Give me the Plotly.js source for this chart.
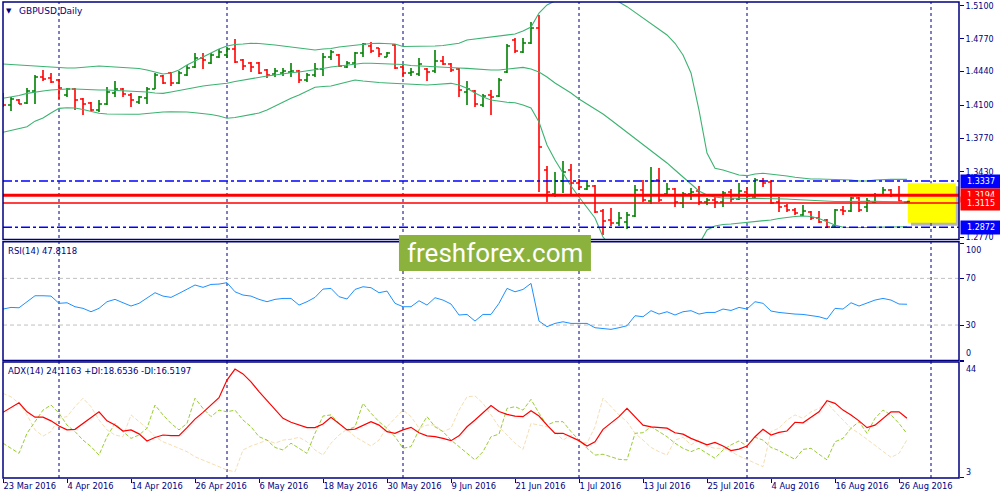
<!DOCTYPE html>
<html><head><meta charset="utf-8">
<script src="https://cdn.plot.ly/plotly-3.0.1.min.js"></script>
<style>html,body{margin:0;padding:0;background:#fff}#chart{width:1000px;height:500px}</style>
</head><body><div id="chart"></div>
<script>
const dates = [
'2016-03-23','2016-03-24','2016-03-25','2016-03-28','2016-03-29','2016-03-30','2016-03-31',
'2016-04-01','2016-04-04','2016-04-05','2016-04-06','2016-04-07','2016-04-08','2016-04-11','2016-04-12','2016-04-13','2016-04-14','2016-04-15','2016-04-18','2016-04-19','2016-04-20','2016-04-21','2016-04-22','2016-04-25','2016-04-26','2016-04-27','2016-04-28','2016-04-29',
'2016-05-02','2016-05-03','2016-05-04','2016-05-05','2016-05-06','2016-05-09','2016-05-10','2016-05-11','2016-05-12','2016-05-13','2016-05-16','2016-05-17','2016-05-18','2016-05-19','2016-05-20','2016-05-23','2016-05-24','2016-05-25','2016-05-26','2016-05-27','2016-05-30','2016-05-31',
'2016-06-01','2016-06-02','2016-06-03','2016-06-06','2016-06-07','2016-06-08','2016-06-09','2016-06-10','2016-06-13','2016-06-14','2016-06-15','2016-06-16','2016-06-17','2016-06-20','2016-06-21','2016-06-22','2016-06-23','2016-06-24','2016-06-27','2016-06-28','2016-06-29','2016-06-30',
'2016-07-01','2016-07-04','2016-07-05','2016-07-06','2016-07-07','2016-07-08','2016-07-11','2016-07-12','2016-07-13','2016-07-14','2016-07-15','2016-07-18','2016-07-19','2016-07-20','2016-07-21','2016-07-22','2016-07-25','2016-07-26','2016-07-27','2016-07-28','2016-07-29',
'2016-08-01','2016-08-02','2016-08-03','2016-08-04','2016-08-05','2016-08-08','2016-08-09','2016-08-10','2016-08-11','2016-08-12','2016-08-15','2016-08-16','2016-08-17','2016-08-18','2016-08-19','2016-08-22','2016-08-23','2016-08-24','2016-08-25','2016-08-26','2016-08-29'];
const futureDates = ['2016-08-30','2016-08-31','2016-09-01','2016-09-02','2016-09-05','2016-09-06'];
const tickDates = ['2016-03-23','2016-04-04','2016-04-14','2016-04-26','2016-05-06','2016-05-18','2016-05-30','2016-06-09','2016-06-21','2016-07-01','2016-07-13','2016-07-25','2016-08-04','2016-08-16','2016-08-26'];
const tickLabels = ['23 Mar 2016','4 Apr 2016','14 Apr 2016','26 Apr 2016','6 May 2016','18 May 2016','30 May 2016','9 Jun 2016','21 Jun 2016','1 Jul 2016','13 Jul 2016','25 Jul 2016','4 Aug 2016','16 Aug 2016','26 Aug 2016'];
const monthStarts = ['2016-04-01','2016-05-02','2016-06-01','2016-07-01','2016-08-01','2016-09-01'];

const openP = [1.4183,1.4103,1.4153,1.4123,1.4244,1.4385,1.4375,1.4354,1.4203,1.4264,
1.4163,1.4123,1.4052,1.4113,1.4224,1.4264,1.4203,1.4133,1.4173,1.4264,
1.4395,1.4425,1.4324,1.4405,1.4485,1.4576,1.4526,1.4586,1.4606,1.4667,
1.4556,1.4526,1.4526,1.4455,1.4415,1.4425,1.4435,1.4445,1.4354,1.4405,
1.4465,1.4586,1.4606,1.4485,1.4526,1.4626,1.4697,1.4677,1.4586,1.4707,
1.4485,1.4425,1.4415,1.4465,1.4445,1.4546,1.4516,1.4465,1.4234,1.4244,
1.4103,1.4203,1.4193,1.4435,1.4757,1.4636,1.4727,1.4878,1.3448,1.3206,
1.3337,1.3448,1.3317,1.3257,1.3287,1.3035,1.2945,1.2914,1.2924,1.2985,
1.3247,1.3136,1.3347,1.3206,1.3257,1.3116,1.3206,1.3237,1.3126,1.3146,
1.3126,1.3227,1.3156,1.3227,1.3176,1.3337,1.3327,1.3126,1.3086,1.3045,
1.2995,1.3025,1.2965,1.2945,1.2884,1.3045,1.3035,1.3166,1.3076,1.3126,
1.3196,1.3247,1.3196,1.3126];
const highP = [1.4224,1.4183,1.4163,1.4274,1.4405,1.4455,1.4425,1.4364,1.4274,1.4274,
1.4173,1.4133,1.4153,1.4284,1.4344,1.4274,1.4224,1.4193,1.4284,1.4425,
1.4405,1.4435,1.4445,1.4505,1.4626,1.4626,1.4626,1.4667,1.4687,1.4767,
1.4566,1.4536,1.4536,1.4465,1.4475,1.4475,1.4526,1.4455,1.4425,1.4526,
1.4626,1.4657,1.4616,1.4546,1.4636,1.4727,1.4737,1.4677,1.4636,1.4717,
1.4505,1.4475,1.4576,1.4475,1.4657,1.4596,1.4526,1.4475,1.4344,1.4254,
1.4213,1.4254,1.4375,1.4717,1.4777,1.4777,1.4938,1.5009,1.3488,1.3428,
1.3539,1.3509,1.3357,1.3337,1.3297,1.3055,1.3066,1.3025,1.3025,1.3297,
1.3347,1.3478,1.3468,1.3317,1.3267,1.3227,1.3267,1.3287,1.3166,1.3176,
1.3237,1.3257,1.3317,1.3277,1.3368,1.3368,1.3347,1.3176,1.3106,1.3066,
1.3096,1.3035,1.3035,1.2955,1.3055,1.3086,1.3176,1.3176,1.3166,1.3217,
1.3277,1.3257,1.3287,1.3136];
const lowP = [1.4083,1.4042,1.4113,1.4113,1.4113,1.4344,1.4324,1.4163,1.4183,1.4052,
1.4002,1.4042,1.4032,1.4103,1.4183,1.4183,1.4083,1.4113,1.4113,1.4264,
1.4314,1.4294,1.4314,1.4395,1.4475,1.4465,1.4516,1.4576,1.4576,1.4526,
1.4455,1.4435,1.4415,1.4375,1.4385,1.4395,1.4385,1.4324,1.4334,1.4385,
1.4395,1.4556,1.4485,1.4475,1.4475,1.4586,1.4626,1.4586,1.4586,1.4465,
1.4385,1.4395,1.4395,1.4344,1.4425,1.4505,1.4435,1.4183,1.4103,1.4083,
1.4083,1.4002,1.4183,1.4425,1.4626,1.4626,1.4717,1.3227,1.3126,1.3176,
1.3217,1.3196,1.3247,1.3247,1.3015,1.2794,1.2884,1.2884,1.2854,1.2975,
1.3126,1.3106,1.3126,1.3196,1.3076,1.3066,1.3146,1.3096,1.3096,1.3066,
1.3076,1.3126,1.3146,1.3126,1.3166,1.3277,1.3106,1.3025,1.3025,1.2995,
1.2985,1.2945,1.2914,1.2874,1.2874,1.2995,1.3025,1.3025,1.3025,1.3116,
1.3186,1.3176,1.3126,1.3116];
const closeP = [1.4103,1.4163,1.4113,1.4244,1.4385,1.4364,1.4334,1.4274,1.4264,1.4153,
1.4113,1.4052,1.4113,1.4234,1.4264,1.4213,1.4153,1.4183,1.4264,1.4405,
1.4324,1.4324,1.4425,1.4475,1.4576,1.4556,1.4606,1.4636,1.4667,1.4536,
1.4495,1.4485,1.4425,1.4405,1.4445,1.4445,1.4445,1.4354,1.4405,1.4465,
1.4586,1.4636,1.4495,1.4526,1.4626,1.4717,1.4646,1.4616,1.4626,1.4475,
1.4425,1.4435,1.4516,1.4435,1.4546,1.4516,1.4455,1.4254,1.4264,1.4113,
1.4193,1.4183,1.4354,1.4697,1.4646,1.4727,1.4878,1.3680,1.3227,1.3337,
1.3428,1.3317,1.3277,1.3287,1.3025,1.2935,1.2914,1.2965,1.2995,1.3247,
1.3146,1.3337,1.3146,1.3257,1.3126,1.3206,1.3227,1.3126,1.3146,1.3126,
1.3217,1.3156,1.3237,1.3186,1.3347,1.3317,1.3116,1.3076,1.3045,1.3015,
1.3035,1.2965,1.2924,1.2874,1.3045,1.3035,1.3166,1.3045,1.3136,1.3196,
1.3247,1.3196,1.3136,1.3130];

const bbUpper = [1.4516,1.4510,1.4505,1.4500,1.4495,1.4490,1.4485,1.4475,1.4475,1.4475,
1.4480,1.4490,1.4495,1.4490,1.4485,1.4480,1.4475,1.4470,1.4455,1.4435,
1.4415,1.4425,1.4455,1.4505,1.4546,1.4586,1.4626,1.4667,1.4697,1.4712,
1.4717,1.4724,1.4722,1.4717,1.4707,1.4697,1.4687,1.4677,1.4667,1.4657,
1.4667,1.4672,1.4687,1.4697,1.4707,1.4714,1.4722,1.4724,1.4724,1.4717,
1.4692,1.4692,1.4694,1.4697,1.4697,1.4702,1.4712,1.4724,1.4757,1.4767,
1.4777,1.4784,1.4797,1.4808,1.4818,1.4848,1.4888,1.5029,1.5110,1.5150,
1.5190,1.5220,1.5230,1.5230,1.5220,1.5200,1.5170,1.5140,1.5093,1.5036,
1.4979,1.4921,1.4863,1.4808,1.4724,1.4606,1.4425,1.4052,1.3619,1.3465,
1.3448,1.3425,1.3398,1.3391,1.3408,1.3415,1.3408,1.3398,1.3388,1.3375,
1.3365,1.3357,1.3357,1.3354,1.3354,1.3347,1.3347,1.3337,1.3337,1.3347,
1.3354,1.3354,1.3354,1.3354];
const bbMiddle = [1.4170,1.4183,1.4198,1.4220,1.4234,1.4244,1.4254,1.4261,1.4264,1.4264,
1.4259,1.4254,1.4254,1.4254,1.4251,1.4249,1.4247,1.4244,1.4234,1.4224,
1.4220,1.4234,1.4249,1.4271,1.4284,1.4294,1.4304,1.4314,1.4321,1.4339,
1.4354,1.4364,1.4380,1.4395,1.4405,1.4420,1.4428,1.4435,1.4445,1.4455,
1.4470,1.4485,1.4495,1.4505,1.4516,1.4523,1.4523,1.4521,1.4519,1.4516,
1.4510,1.4500,1.4495,1.4488,1.4485,1.4482,1.4478,1.4475,1.4472,1.4465,
1.4460,1.4455,1.4455,1.4465,1.4475,1.4482,1.4465,1.4435,1.4385,1.4324,
1.4274,1.4224,1.4163,1.4113,1.4062,1.4012,1.3952,1.3891,1.3831,1.3770,
1.3710,1.3650,1.3589,1.3519,1.3448,1.3378,1.3307,1.3237,1.3196,1.3176,
1.3166,1.3163,1.3161,1.3161,1.3163,1.3163,1.3163,1.3161,1.3156,1.3151,
1.3146,1.3141,1.3136,1.3131,1.3131,1.3131,1.3133,1.3133,1.3133,1.3133,
1.3131,1.3129,1.3129,1.3129];
const bbLower = [1.3828,1.3846,1.3866,1.3884,1.3940,1.3972,1.4022,1.4069,1.4075,1.4072,
1.4057,1.4037,1.4019,1.4012,1.4009,1.4009,1.4009,1.4009,1.4017,1.4027,
1.4032,1.4035,1.4035,1.4032,1.4025,1.4019,1.4007,1.3992,1.3969,1.3977,
1.3992,1.4002,1.4022,1.4052,1.4093,1.4133,1.4170,1.4203,1.4244,1.4281,
1.4289,1.4294,1.4314,1.4334,1.4354,1.4344,1.4334,1.4329,1.4324,1.4321,
1.4319,1.4314,1.4309,1.4304,1.4309,1.4314,1.4321,1.4304,1.4271,1.4224,
1.4183,1.4153,1.4138,1.4130,1.4126,1.4103,1.4072,1.3931,1.3700,1.3549,
1.3418,1.3287,1.3176,1.3076,1.2965,1.2773,1.2680,1.2610,1.2560,1.2520,
1.2500,1.2490,1.2500,1.2530,1.2570,1.2620,1.2670,1.2700,1.2845,1.2884,
1.2899,1.2904,1.2911,1.2919,1.2927,1.2935,1.2945,1.2960,1.2972,1.2980,
1.2985,1.2980,1.2960,1.2924,1.2894,1.2871,1.2869,1.2867,1.2869,1.2871,
1.2874,1.2877,1.2877,1.2877];

const rsi = [43.7,45.1,44.8,50.0,55.1,55.1,54.8,48.6,49.1,45.7,
44.3,41.4,44.3,50.0,52.0,49.1,46.3,48.6,53.4,57.7,
54.8,53.7,57.1,60.5,64.3,62.3,64.8,65.1,66.3,58.5,
55.7,54.8,52.0,50.0,52.0,52.8,52.8,47.1,50.0,53.7,
60.8,61.4,54.3,52.3,60.5,62.8,62.0,57.7,59.1,48.6,
45.7,45.7,50.8,47.1,53.4,51.4,48.0,38.6,39.1,33.4,
39.1,39.1,48.6,61.4,58.5,60.5,65.7,33.4,28.6,31.4,
32.8,31.4,31.4,31.4,27.7,27.1,26.3,27.7,29.4,38.0,
37.1,42.3,39.4,41.4,38.6,41.4,42.3,39.4,40.8,40.8,
43.7,42.5,45.1,43.7,50.0,48.6,42.0,40.8,40.0,39.4,
39.1,38.0,37.1,35.1,44.3,43.7,49.1,46.3,48.6,51.4,
52.8,51.4,48.0,47.8118];
const adx = [26.2,27.9,29.6,26.4,24.5,24.5,23.2,21.4,20.0,20.2,
22.3,24.5,26.4,23.2,21.7,19.6,20.0,18.6,16.1,17.3,
18.2,18.0,18.0,20.8,23.8,26.2,28.8,31.4,37.6,41.5,
39.8,37.0,33.5,30.3,27.3,24.1,22.7,21.7,20.8,20.8,
22.1,24.5,22.3,20.0,20.3,21.7,22.9,21.7,19.4,18.8,
20.0,20.9,19.0,17.9,17.6,17.0,16.2,17.9,21.1,23.5,
25.9,28.6,26.5,25.5,24.9,24.7,26.8,24.9,21.7,18.8,
18.8,17.6,16.2,14.3,15.8,20.2,22.3,24.7,27.6,24.5,
21.7,21.1,20.8,20.6,19.0,18.5,17.0,15.8,14.7,15.6,
14.3,12.7,13.2,14.3,17.6,20.2,18.2,19.1,19.6,22.7,
22.5,24.5,26.4,30.3,29.4,27.0,25.3,23.2,20.8,21.7,
24.1,26.4,26.4,24.1163];
const plusDI = [15.3,13.5,11.7,18.8,22.9,27.0,28.8,25.9,21.7,19.4,
16.4,14.1,11.1,17.6,22.3,19.4,17.0,18.2,20.6,28.8,
25.3,22.3,20.0,22.3,31.2,27.6,24.7,27.0,26.4,27.0,
23.5,21.1,17.6,16.4,13.8,12.9,15.3,13.5,11.7,18.8,
24.9,25.3,22.3,20.0,21.1,29.4,25.9,22.9,20.6,17.6,
13.5,14.1,20.0,24.7,21.1,19.4,16.4,14.1,11.7,9.4,
12.3,17.6,18.5,27.6,28.2,27.0,30.8,25.9,21.7,22.9,
22.9,19.4,16.4,13.5,11.1,11.4,10.5,9.6,9.4,18.8,
19.0,21.1,19.4,17.6,15.3,13.5,12.3,13.5,11.7,10.0,
12.9,14.7,16.1,14.3,17.4,16.4,13.8,12.7,11.1,9.6,
13.1,13.5,11.4,9.4,15.8,17.0,20.6,22.9,18.8,24.1,
27.0,25.3,22.3,18.6536];
const minusDI = [32.9,31.7,29.4,25.3,20.0,17.8,19.4,24.1,24.7,28.2,
31.2,28.2,23.5,20.0,18.2,17.6,25.3,22.9,20.6,17.6,
15.8,14.7,13.5,12.3,10.5,9.4,8.2,7.0,5.8,5.2,
12.9,14.3,15.3,16.4,15.3,16.4,16.7,17.4,15.8,12.9,
11.1,15.3,18.2,20.2,17.6,15.8,14.3,16.4,21.1,24.1,
27.0,24.7,20.6,21.7,21.7,19.4,20.6,27.0,31.7,32.0,
29.4,25.3,21.1,18.2,15.3,13.1,22.3,21.7,21.1,19.4,
16.4,18.2,15.8,15.3,21.1,31.2,28.2,25.3,22.9,18.8,
16.4,13.8,12.3,11.1,16.4,17.4,14.7,16.4,14.1,13.5,
13.5,12.3,10.8,9.6,8.2,7.0,19.4,20.6,23.5,25.3,
24.1,26.4,27.6,29.6,26.4,23.5,20.6,18.8,16.7,14.7,
12.3,10.3,11.7,16.5197];

const priceTicks = [1.5100,1.4770,1.4440,1.4100,1.3770,1.3430,1.2770];
const levelValues = [1.3337,1.3194,1.3115,1.2872];
const levelColors = ['#0000ff','#ff0000','#ff0000','#0000ff'];
const rsiLevels = [70,30];

const NAVY = '#000080';
const FONT = 'DejaVu Sans';
const dom1 = [0.501,1], dom2 = [0.2468,0.4964], dom3 = [0,0.2437];

const traces = [
  {type:'ohlc', x:dates, open:openP, high:highP, low:lowP, close:closeP, xaxis:'x', yaxis:'y',
   increasing:{line:{color:'#008000', width:1.6}}, decreasing:{line:{color:'#ff0000', width:1.6}},
   tickwidth:0.38, hoverinfo:'skip', showlegend:false},
  {type:'scatter', mode:'lines', x:dates, y:bbUpper, line:{color:'#3cb371', width:1.1}, yaxis:'y', hoverinfo:'skip'},
  {type:'scatter', mode:'lines', x:dates, y:bbMiddle, line:{color:'#3cb371', width:1.1}, yaxis:'y', hoverinfo:'skip'},
  {type:'scatter', mode:'lines', x:dates, y:bbLower, line:{color:'#3cb371', width:1.1}, yaxis:'y', hoverinfo:'skip'},
  {type:'scatter', mode:'lines', x:dates, y:rsi, line:{color:'#1e90ff', width:1}, yaxis:'y2', hoverinfo:'skip'},
  {type:'scatter', mode:'lines', x:dates, y:minusDI, line:{color:'#f5deb3', width:1, dash:'4px,2px'}, yaxis:'y3', hoverinfo:'skip'},
  {type:'scatter', mode:'lines', x:dates, y:plusDI, line:{color:'#9acd32', width:1, dash:'4px,2px'}, yaxis:'y3', hoverinfo:'skip'},
  {type:'scatter', mode:'lines', x:dates, y:adx, line:{color:'#ff0000', width:1.2}, yaxis:'y3', hoverinfo:'skip'}
];

const shapes = [];
shapes.push({type:'rect', layer:'below', xref:'x', yref:'y', x0:113.5, x1:119.5, y0:1.2887, y1:1.3284, fillcolor:'rgba(90,90,90,0.45)', line:{width:0}});
shapes.push({type:'rect', layer:'below', xref:'x', yref:'y', x0:113.1, x1:119.1, y0:1.2917, y1:1.3314, fillcolor:'#ffff00', line:{width:0}});
monthStarts.forEach(d => shapes.push({type:'line', layer:'below', xref:'x', yref:'paper', x0:d, x1:d, y0:0, y1:1, line:{color:NAVY, width:1, dash:'3px,3px'}}));
levelValues.forEach((v,k) => {
  const st = k===0||k===3 ? {color:'#0000ff', width:1.6, dash:'9px,3px,3px,3px'} : {color:'#ff0000', width:k===1?3:1.5};
  shapes.push({type:'line', layer:'above', xref:'paper', yref:'y', x0:0, x1:1, y0:v, y1:v, line:st});
});
rsiLevels.forEach(v => shapes.push({type:'line', layer:'below', xref:'paper', yref:'y2', x0:0, x1:1, y0:v, y1:v, line:{color:'#c0c0c0', width:1, dash:'4px,3px'}}));
[dom1, dom2, dom3].forEach(d => shapes.push({type:'rect', layer:'above', xref:'paper', yref:'paper', x0:0, x1:1, y0:d[0], y1:d[1], line:{color:NAVY, width:1.5}, fillcolor:'rgba(0,0,0,0)'}));
shapes.push({type:'rect', layer:'above', xref:'paper', yref:'paper', x0:0.4142, x1:0.615, y0:0.4349, y1:0.5105, fillcolor:'#8cb23e', line:{width:0}});

const annotations = [
  {xref:'paper', yref:'paper', x:0.0063, y:0.9815, xanchor:'center', yanchor:'middle', text:'▼', showarrow:false, font:{family:FONT, size:7, color:NAVY}},
  {xref:'paper', yref:'paper', x:0.015, y:0.9815, xanchor:'left', yanchor:'middle', text:'GBPUSD,Daily', showarrow:false, font:{family:FONT, size:9, color:NAVY}},
  {xref:'paper', yref:'paper', x:0.0035, y:0.4773, xanchor:'left', yanchor:'middle', text:'RSI(14) 47.8118', showarrow:false, font:{family:FONT, size:8.5, color:NAVY}},
  {xref:'paper', yref:'paper', x:0.0035, y:0.2244, xanchor:'left', yanchor:'middle', text:'ADX(14) 24.1163 +DI:18.6536 -DI:16.5197', showarrow:false, font:{family:FONT, size:8.5, color:NAVY}},
  {xref:'paper', yref:'paper', x:0.5146, y:0.4737, xanchor:'center', yanchor:'middle', text:'freshforex.com', showarrow:false, font:{family:'Roboto', size:26, color:'#ffffff'}},
  {xref:'paper', yref:'y2', x:1, y:100, xanchor:'left', yanchor:'middle', xshift:5, yshift:-6.7, text:'100', showarrow:false, font:{family:FONT, size:8, color:NAVY}},
  {xref:'paper', yref:'y2', x:1, y:0, xanchor:'left', yanchor:'middle', xshift:5, yshift:7, text:'0', showarrow:false, font:{family:FONT, size:8, color:NAVY}},
  {xref:'paper', yref:'y3', x:1, y:44, xanchor:'left', yanchor:'middle', xshift:5, yshift:-7.3, text:'44', showarrow:false, font:{family:FONT, size:8, color:NAVY}},
  {xref:'paper', yref:'y3', x:1, y:3, xanchor:'left', yanchor:'middle', xshift:5, yshift:5.3, text:'3', showarrow:false, font:{family:FONT, size:8, color:NAVY}}
];
levelValues.forEach((v,k) => annotations.push({xref:'paper', yref:'y', x:1, y:v, xanchor:'left', yanchor:'middle', xshift:1,
  text:v.toFixed(4), showarrow:false, bgcolor:levelColors[k], width:38, height:11, align:'center', borderpad:1,
  font:{family:FONT, size:8, color:'#ffffff'}}));

const yTick = {ticks:'outside', ticklen:4, tickcolor:NAVY, tickwidth:1, tickfont:{family:FONT, size:8, color:NAVY},
  showgrid:false, zeroline:false, showline:false, side:'right', anchor:'x', fixedrange:true};

const layout = {
  width:1000, height:500, margin:{l:3, r:41, t:2, b:22, pad:0},
  paper_bgcolor:'#ffffff', plot_bgcolor:'#ffffff', showlegend:false, dragmode:false,
  xaxis:{type:'category', categoryorder:'array', categoryarray:dates.concat(futureDates), range:[0,119.5],
    anchor:'y3', tickmode:'array', tickvals:tickDates, ticktext:tickLabels, ticks:'outside', ticklen:4, tickcolor:NAVY,
    tickangle:0, ticklabelposition:'outside right', tickfont:{family:FONT, size:8.3, color:NAVY},
    showgrid:false, zeroline:false, showline:false, rangeslider:{visible:false}, fixedrange:true},
  yaxis:Object.assign({}, yTick, {domain:dom1, range:[1.2748,1.5140], tickmode:'array', tickvals:priceTicks, ticktext:priceTicks.map(v=>v.toFixed(4))}),
  yaxis2:Object.assign({}, yTick, {domain:dom2, range:[-0.4,101.4], tickmode:'array', tickvals:[100,70,30,0], ticktext:['','70','30','']}),
  yaxis3:Object.assign({}, yTick, {domain:dom3, range:[3,44], tickmode:'array', tickvals:[44,3], ticktext:['','']}),
  shapes:shapes, annotations:annotations
};

Plotly.newPlot('chart', traces, layout, {staticPlot:true, displayModeBar:false});
</script></body></html>
